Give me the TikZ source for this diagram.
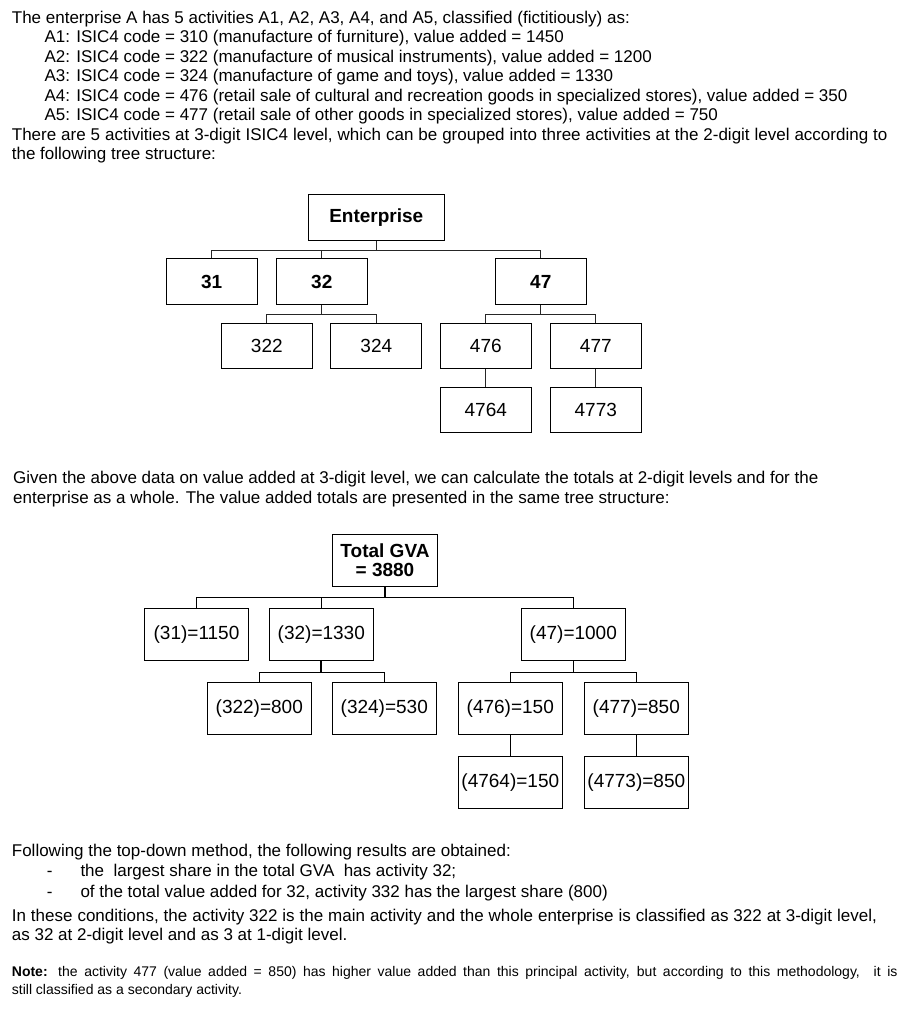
\documentclass[tikz,border=0pt]{standalone}
\usepackage{fontspec}
\setmainfont{Liberation Sans}
\usetikzlibrary{positioning}

\newcommand{\bodyfont}{\fontsize{17}{19.5}\selectfont}
\newcommand{\notefont}{\fontsize{14}{17}\selectfont}
\newcommand{\treefont}{\fontsize{19}{18.7}\selectfont}

\begin{document}
\begin{tikzpicture}[x=1pt, y=-1pt]
                \tikzstyle{line} = [anchor=base west, inner sep=0pt, font=\bodyfont];
                \tikzstyle{noteline} = [anchor=base west, inner sep=0pt, font=\notefont];
                \tikzstyle{box} = [draw, line width=1pt, inner sep=0pt, minimum width=91pt, minimum height=45.5pt, font=\treefont];
                \tikzstyle{gvabox} = [draw, line width=1pt, inner sep=0pt, minimum width=104pt, minimum height=51.7pt, font=\treefont];
                \tikzstyle{link} = [draw=black!85, line width=1pt];

                \useasboundingbox (0,0) rectangle (912,1009);

                % opening text
                \node[line](t1) at (11.7,23.3) {The enterprise A has 5 activities A1, A2, A3, A4, and A5, classified (fictitiously) as:};
                \node[line](t2) at (44.3,42.75) {A1: ISIC4 code = 310 (manufacture of furniture), value added = 1450};
                \node[line](t3) at (44.3,62.2) {A2: ISIC4 code = 322 (manufacture of musical instruments), value added = 1200};
                \node[line](t4) at (44.3,81.65) {A3: ISIC4 code = 324 (manufacture of game and toys), value added = 1330};
                \node[line](t5) at (44.3,101.1) {A4: ISIC4 code = 476 (retail sale of cultural and recreation goods in specialized stores), value added = 350};
                \node[line](t6) at (44.3,120.55) {A5: ISIC4 code = 477 (retail sale of other goods in specialized stores), value added = 750};
                \node[line](t7) at (11.7,140) {\makebox[875.6pt][s]{There are 5 activities at 3-digit ISIC4 level, which can be grouped into three activities at the 2-digit level according to}};
                \node[line](t8) at (11.7,159.45) {the following tree structure:};

                % first tree
                \node[box, minimum width=136pt, minimum height=46pt, font=\treefont\bfseries](ent) at (376.3,217.3) {Enterprise};
                \node[box, font=\treefont\bfseries](c31) at (211.7,281.7) {31};
                \node[box, font=\treefont\bfseries](c32) at (321.8,281.7) {32};
                \node[box, font=\treefont\bfseries](c47) at (540.8,281.7) {47};
                \node[box](c322) at (266.8,345.8) {322};
                \node[box](c324) at (376.3,345.8) {324};
                \node[box](c476) at (485.8,345.8) {476};
                \node[box](c477) at (595.8,345.8) {477};
                \node[box](c4764) at (485.8,410) {4764};
                \node[box](c4773) at (595.8,410) {4773};

                \draw[link, line width=1.6pt] (ent.south) -- ++(0,9.7);
                \draw[link] (ent.south) ++(0,9.7) -| (c31.north);
                \draw[link] (ent.south) ++(0,9.7) -| (c32.north);
                \draw[link] (ent.south) ++(0,9.7) -| (c47.north);
                \draw[link] (c32.south) -- ++(0,9.7) -| (c322.north);
                \draw[link] (c32.south) -- ++(0,9.7) -| (c324.north);
                \draw[link] (c47.south) -- ++(0,9.7) -| (c476.north);
                \draw[link] (c47.south) -- ++(0,9.7) -| (c477.north);
                \draw[link] (c476.south) -- (c4764.north);
                \draw[link] (c477.south) -- (c4773.north);

                % middle text
                \node[line](m1) at (13,483.3) {Given the above data on value added at 3-digit level, we can calculate the totals at 2-digit levels and for the};
                \node[line](m2) at (13,503.3) {enterprise as a whole. The value added totals are presented in the same tree structure:};

                % second tree
                \node[gvabox, minimum width=105.3pt, align=center, font=\treefont\bfseries](gva) at (385,560.2) {Total GVA\\= 3880};
                \node[gvabox](v31) at (196.5,634.2) {(31)=1150};
                \node[gvabox](v32) at (321.3,634.2) {(32)=1330};
                \node[gvabox](v47) at (573.3,634.2) {(47)=1000};
                \node[gvabox](v322) at (259.3,708.2) {(322)=800};
                \node[gvabox](v324) at (384.3,708.2) {(324)=530};
                \node[gvabox](v476) at (510.3,708.2) {(476)=150};
                \node[gvabox](v477) at (636.3,708.2) {(477)=850};
                \node[gvabox](v4764) at (510.3,782.3) {(4764)=150};
                \node[gvabox](v4773) at (636.3,782.3) {(4773)=850};

                \draw[line width=2pt] (gva.south) -- ++(0,11.3);
                \draw[line width=1pt] (gva.south) ++(0,11.3) -| (v31.north);
                \draw[line width=1pt] (gva.south) ++(0,11.3) -| (v32.north);
                \draw[line width=1pt] (gva.south) ++(0,11.3) -| (v47.north);
                \draw[line width=2pt] (v32.south) -- ++(0,11.5);
                \draw[line width=1pt] (v32.south) ++(0,11.5) -| (v322.north);
                \draw[line width=1pt] (v32.south) ++(0,11.5) -| (v324.north);
                \draw[line width=1pt] (v47.south) -- ++(0,11.5) -| (v476.north);
                \draw[line width=1pt] (v47.south) -- ++(0,11.5) -| (v477.north);
                \draw[line width=1pt] (v476.south) -- (v4764.north);
                \draw[line width=1pt] (v477.south) -- (v4773.north);

                % closing text
                \node[line](b1) at (11.7,856) {Following the top-down method, the following results are obtained:};
                \node[line](d1) at (46.7,876) {-};
                \node[line](b2) at (80.3,876) {the \ largest share in the total GVA \ has activity 32;};
                \node[line](d2) at (46.7,897.7) {-};
                \node[line](b3) at (80.3,897.7) {of the total value added for 32, activity 332 has the largest share (800)};
                \node[line](b4) at (11.7,921) {\makebox[865pt][s]{In these conditions, the activity 322 is the main activity and the whole enterprise is classified as 322 at 3-digit level,}};
                \node[line](b5) at (11.7,940.7) {as 32 at 2-digit level and as 3 at 1-digit level.};
                \node[noteline](n1) at (11.7,976.7) {\makebox[885.6pt][s]{\textbf{Note:} the activity 477 (value added = 850) has higher value added than this principal activity, but according to this methodology, \ it is}};
                \node[noteline](n2) at (11.7,994) {still classified as a secondary activity.};
\end{tikzpicture}
\end{document}
